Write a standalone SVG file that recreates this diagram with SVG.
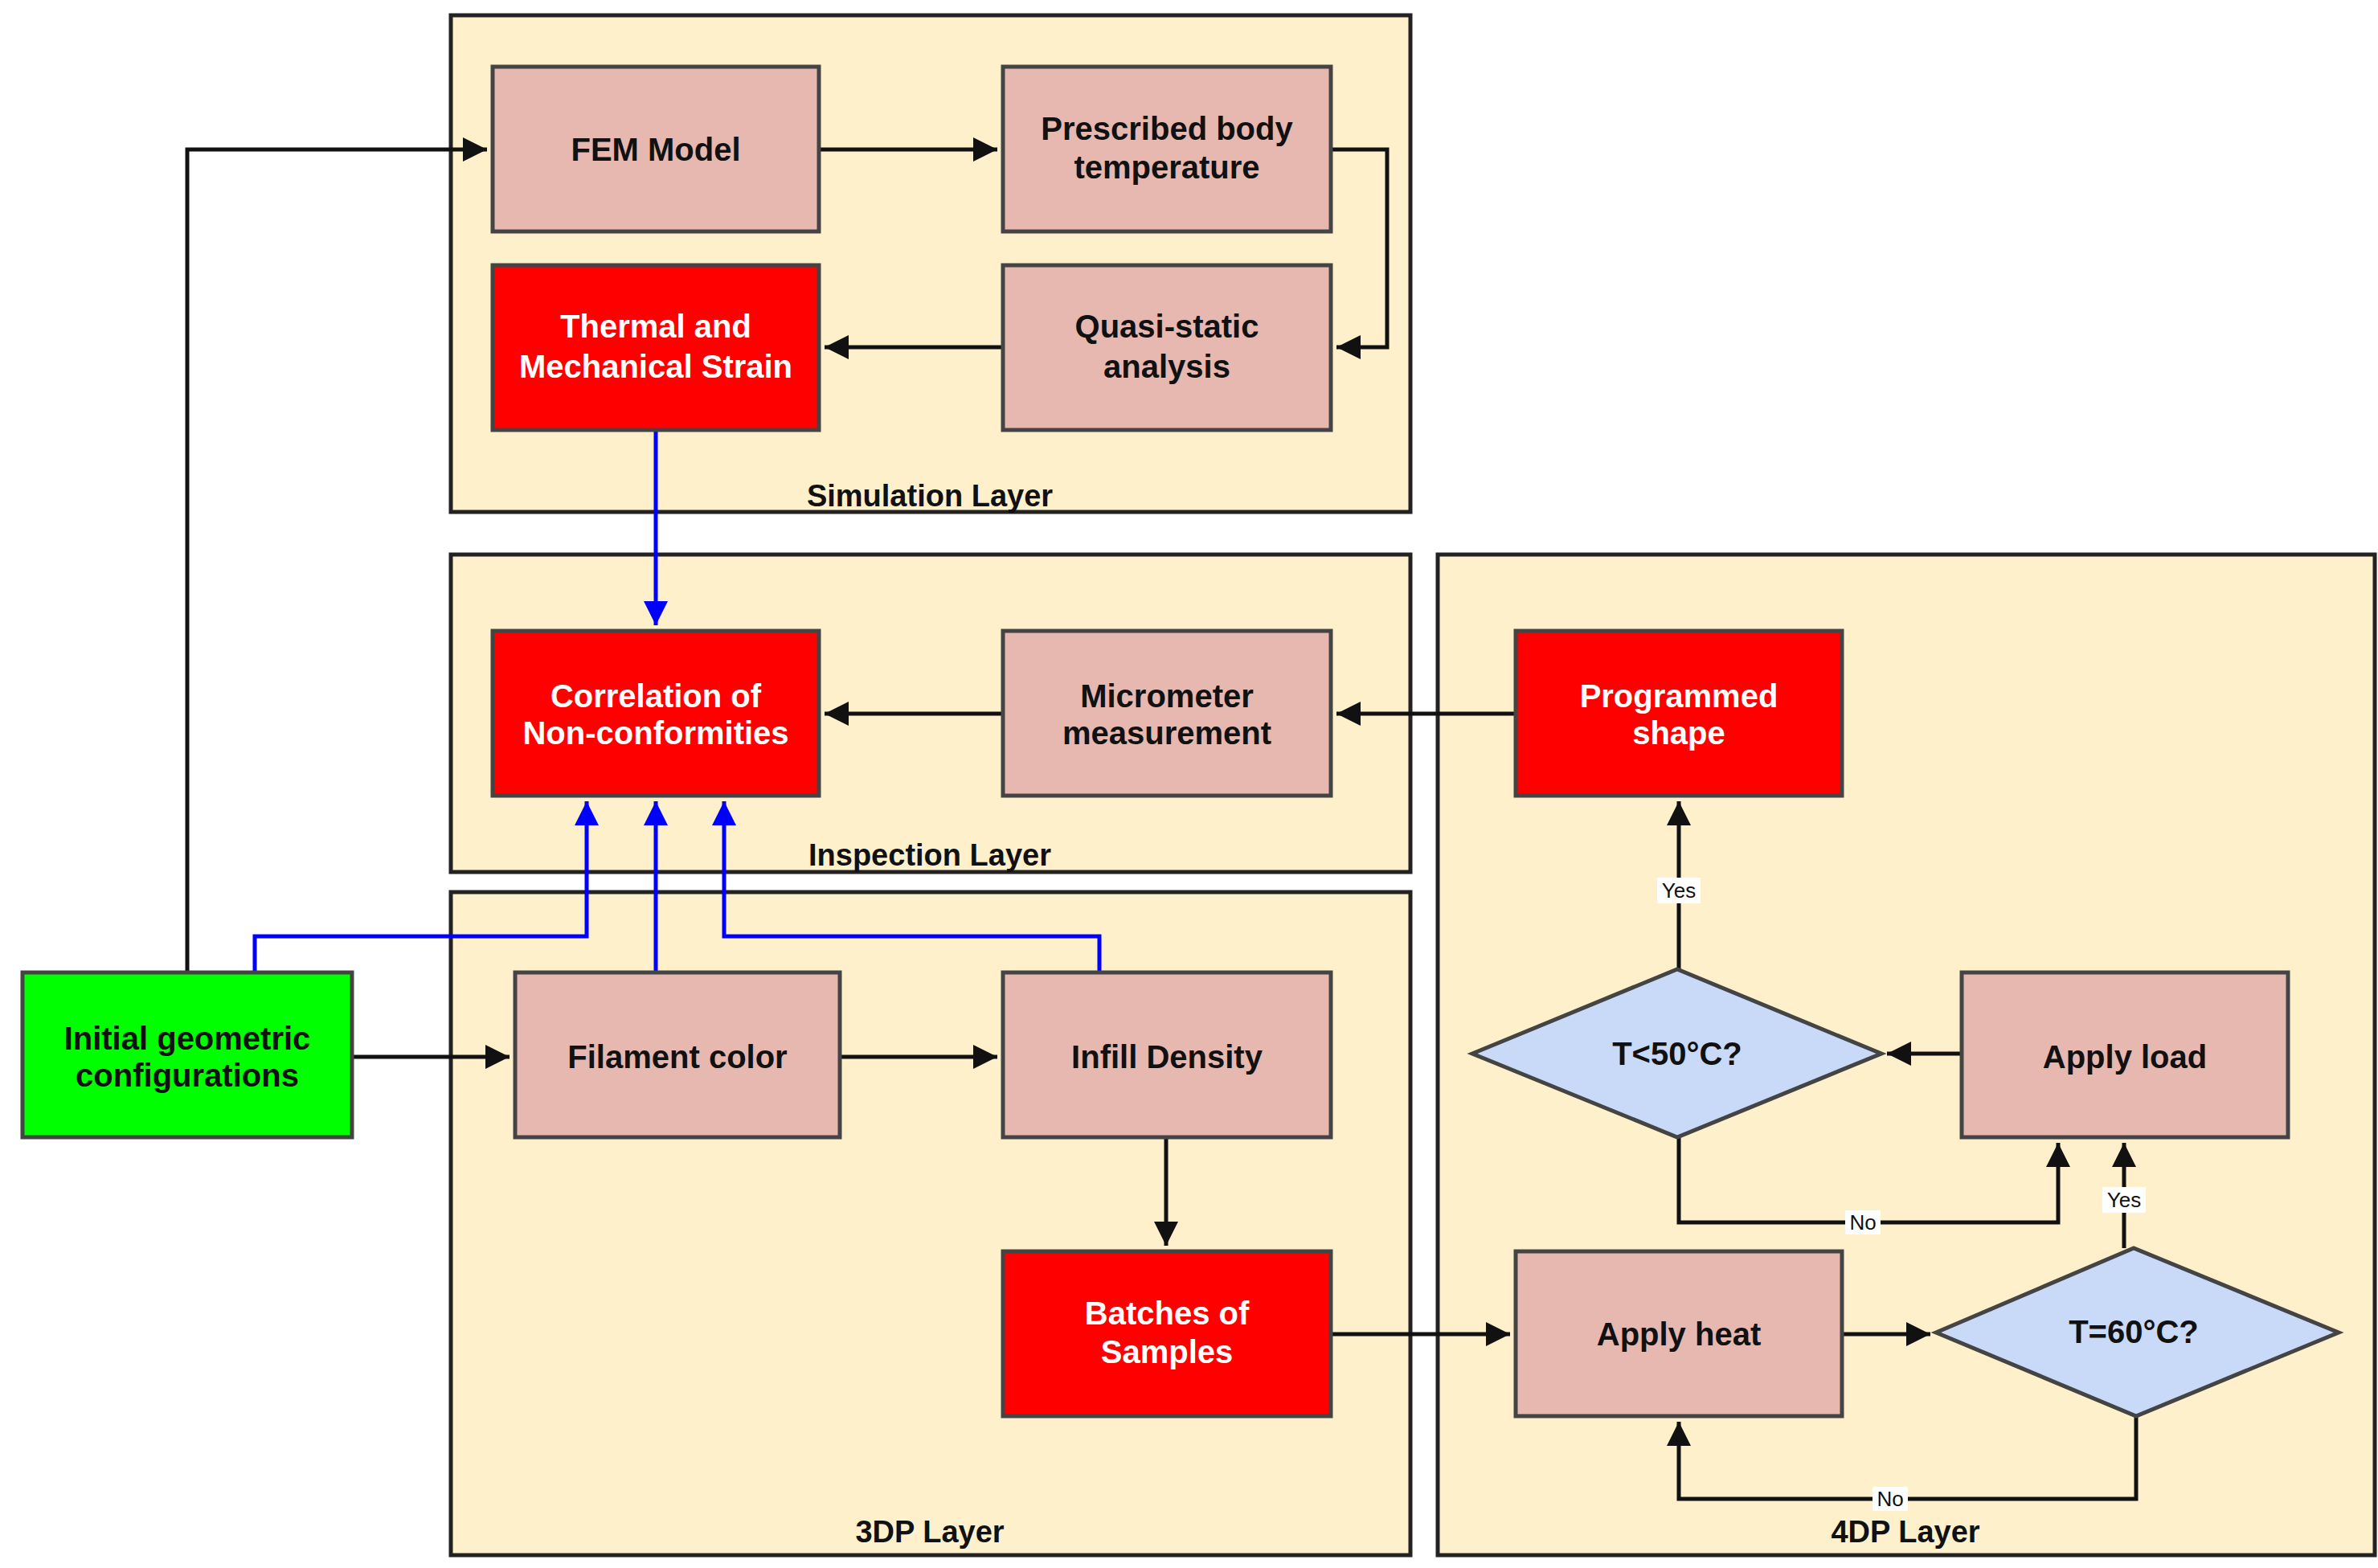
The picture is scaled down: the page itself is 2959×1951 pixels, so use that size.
<svg xmlns="http://www.w3.org/2000/svg" width="2959" height="1951" viewBox="0 0 2959 1951">
<style>
.layer{fill:#fff0cc;stroke:#222;stroke-width:5}
.n{fill:#e6b8af;stroke:#444;stroke-width:5}
.r{fill:#ff0000;stroke:#444;stroke-width:5}
.g{fill:#00ff00;stroke:#444;stroke-width:5}
.d{fill:#c9daf8;stroke:#444;stroke-width:5}
.t{font-family:"Liberation Sans",Arial,sans-serif;font-size:40px;font-weight:bold;text-anchor:middle;fill:#111}
.w{fill:#fff}
.lt{font-family:"Liberation Sans",Arial,sans-serif;font-size:38px;font-weight:bold;text-anchor:middle;fill:#111}
.k{fill:none;stroke:#111;stroke-width:5}
.b{fill:none;stroke:#0000ff;stroke-width:5}
.lb{font-family:"Liberation Sans",Arial,sans-serif;font-size:26px;text-anchor:middle;fill:#111}
</style>
<defs>
<marker id="ak" viewBox="0 0 10 10" refX="10" refY="5" markerWidth="6" markerHeight="6" orient="auto" markerUnits="strokeWidth"><path d="M0,0 L10,5 L0,10 z" fill="#111"/></marker>
<marker id="ab" viewBox="0 0 10 10" refX="10" refY="5" markerWidth="6" markerHeight="6" orient="auto" markerUnits="strokeWidth"><path d="M0,0 L10,5 L0,10 z" fill="#0000ff"/></marker>
</defs>
<rect width="2959" height="1951" fill="#fff"/>
<g id="layers">
<g id="sim"><rect class="layer" x="561" y="19" width="1194" height="618"/><text class="lt" x="1157" y="630">Simulation Layer</text></g>
<g id="insp"><rect class="layer" x="561" y="690" width="1194" height="395"/><text class="lt" x="1157" y="1077">Inspection Layer</text></g>
<g id="l3dp"><rect class="layer" x="561" y="1110" width="1194" height="825"/><text class="lt" x="1157" y="1919">3DP Layer</text></g>
<g id="l4dp"><rect class="layer" x="1789" y="690" width="1166" height="1245"/><text class="lt" x="2371" y="1919">4DP Layer</text></g>
</g>
<g id="connectors">
<path class="k" d="M233,1210 V186 H606" marker-end="url(#ak)"/>
<path class="k" d="M1019,186 H1241" marker-end="url(#ak)"/>
<path class="k" d="M1656,186 H1726 V432 H1663" marker-end="url(#ak)"/>
<path class="k" d="M1248,432 H1026" marker-end="url(#ak)"/>
<path class="b" d="M816,535 V778" marker-end="url(#ab)"/>
<path class="k" d="M1248,888 H1026" marker-end="url(#ak)"/>
<path class="k" d="M1886,888 H1663" marker-end="url(#ak)"/>
<path class="k" d="M438,1315 H634" marker-end="url(#ak)"/>
<path class="k" d="M1045,1315 H1241" marker-end="url(#ak)"/>
<path class="b" d="M317,1210 V1165 H730 V997" marker-end="url(#ab)"/>
<path class="b" d="M816,1210 V997" marker-end="url(#ab)"/>
<path class="b" d="M1368,1210 V1165 H901 V997" marker-end="url(#ab)"/>
<path class="k" d="M1451,1415 V1550" marker-end="url(#ak)"/>
<path class="k" d="M1656,1660 H1879" marker-end="url(#ak)"/>
<path class="k" d="M2292,1660 H2402" marker-end="url(#ak)"/>
<path class="k" d="M2658,1762 V1865 H2089 V1769" marker-end="url(#ak)"/>
<path class="k" d="M2643,1553 V1422" marker-end="url(#ak)"/>
<path class="k" d="M2441,1311 H2348" marker-end="url(#ak)"/>
<path class="k" d="M2089,1415 V1521 H2561 V1422" marker-end="url(#ak)"/>
<path class="k" d="M2089,1206 V997" marker-end="url(#ak)"/>
<rect x="2062" y="1092" width="54" height="32" fill="#fff"/><text class="lb" x="2089" y="1117">Yes</text>
<rect x="2296" y="1506" width="44" height="30" fill="#fff"/><text class="lb" x="2318" y="1530">No</text>
<rect x="2616" y="1477" width="54" height="32" fill="#fff"/><text class="lb" x="2643" y="1502">Yes</text>
<rect x="2330" y="1850" width="44" height="30" fill="#fff"/><text class="lb" x="2352" y="1874">No</text>
</g>
<g id="fem"><rect class="n" x="613" y="83" width="406" height="205"/><text class="t" x="816" y="200">FEM Model</text></g>
<g id="prescribed"><rect class="n" x="1248" y="83" width="408" height="205"/><text class="t" x="1452" y="174">Prescribed body</text><text class="t" x="1452" y="222">temperature</text></g>
<g id="thermal"><rect class="r" x="613" y="330" width="406" height="205"/><text class="t w" x="816" y="420">Thermal and</text><text class="t w" x="816" y="470">Mechanical Strain</text></g>
<g id="quasi"><rect class="n" x="1248" y="330" width="408" height="205"/><text class="t" x="1452" y="420">Quasi-static</text><text class="t" x="1452" y="470">analysis</text></g>
<g id="correlation"><rect class="r" x="613" y="785" width="406" height="205"/><text class="t w" x="816" y="880">Correlation of</text><text class="t w" x="816" y="926">Non-conformities</text></g>
<g id="micrometer"><rect class="n" x="1248" y="785" width="408" height="205"/><text class="t" x="1452" y="880">Micrometer</text><text class="t" x="1452" y="926">measurement</text></g>
<g id="initial"><rect class="g" x="28" y="1210" width="410" height="205"/><text class="t" x="233" y="1306">Initial geometric</text><text class="t" x="233" y="1352">configurations</text></g>
<g id="filament"><rect class="n" x="641" y="1210" width="404" height="205"/><text class="t" x="843" y="1329">Filament color</text></g>
<g id="infill"><rect class="n" x="1248" y="1210" width="408" height="205"/><text class="t" x="1452" y="1329">Infill Density</text></g>
<g id="batches"><rect class="r" x="1248" y="1557" width="408" height="205"/><text class="t w" x="1452" y="1648">Batches of</text><text class="t w" x="1452" y="1696">Samples</text></g>
<g id="programmed"><rect class="r" x="1886" y="785" width="406" height="205"/><text class="t w" x="2089" y="880">Programmed</text><text class="t w" x="2089" y="926">shape</text></g>
<g id="tlt50"><polygon class="d" points="1832,1311 2087,1206 2341,1311 2087,1415"/><text class="t" x="2087" y="1325">T&lt;50°C?</text></g>
<g id="applyload"><rect class="n" x="2441" y="1210" width="406" height="205"/><text class="t" x="2644" y="1329">Apply load</text></g>
<g id="applyheat"><rect class="n" x="1886" y="1557" width="406" height="205"/><text class="t" x="2089" y="1674">Apply heat</text></g>
<g id="t60"><polygon class="d" points="2409,1658 2655,1553 2910,1658 2658,1762"/><text class="t" x="2655" y="1671">T=60°C?</text></g>
</svg>
